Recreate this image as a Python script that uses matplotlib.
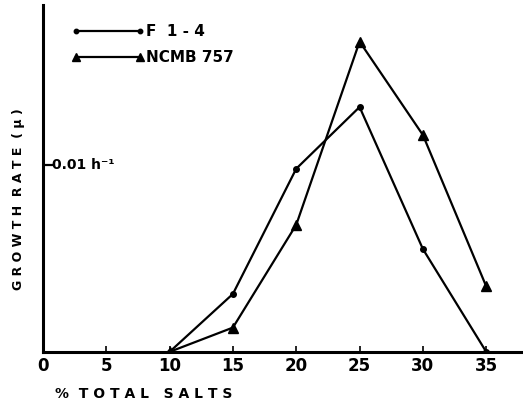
import matplotlib
matplotlib.use("Agg")
import matplotlib.pyplot as plt

# % total salts vs growth rate (h^-1)
salts = [10, 15, 20, 25, 30, 35]
f14 = [0.0, 0.0031, 0.0098, 0.0131, 0.0055, 0.0]
ncmb757 = [0.0, 0.0013, 0.0068, 0.0166, 0.0116, 0.0035]
xticks = [0, 5, 10, 15, 20, 25, 30, 35]

plt.rcParams["font.family"] = ["DejaVu Sans"]

fig = plt.figure(figsize=(5.23, 4.13), dpi=100)
ax = fig.add_axes([0.082, 0.148, 0.918, 0.84])

ax.plot(salts, f14, color="black", lw=1.6, marker="o", ms=4,
        label="F  1 - 4")
ax.plot(salts, ncmb757, color="black", lw=1.6, marker="^", ms=7,
        label="NCMB 757")

ax.set_xlim(0, 37.9)
ax.set_ylim(0, 0.01856)
ax.set_xticks(xticks)
ax.set_xticklabels([str(t) for t in xticks], fontsize=12, fontweight="bold")
ax.set_yticks([0.01])
ax.set_yticklabels([""])
ax.tick_params(axis="x", direction="in", length=4, width=1.2, pad=4)
ax.tick_params(axis="y", direction="in", length=8, width=1.6)
ax.text(0.75, 0.01, "0.01 h\u207b\u00b9", fontsize=10, fontweight="bold",
        va="center", ha="left")

for side in ["top", "right"]:
    ax.spines[side].set_visible(False)
for side in ["left", "bottom"]:
    ax.spines[side].set_linewidth(2.2)

fig.text(0.105, 0.045, "%  T O T A L   S A L T S", fontsize=10,
         fontweight="bold", ha="left", va="center")
fig.text(0.036, 0.518, "G R O W T H  R A T E  ( \u03bc )", fontsize=9,
         fontweight="bold", rotation=90, ha="center", va="center")

leg = ax.legend(loc="upper left", bbox_to_anchor=(0.03, 0.985), numpoints=2,
                frameon=False, handlelength=4.8, handletextpad=0.1,
                labelspacing=0.75, markerscale=0.8,
                prop={"weight": "bold", "size": 11})

fig.savefig("out.png", dpi=100)
